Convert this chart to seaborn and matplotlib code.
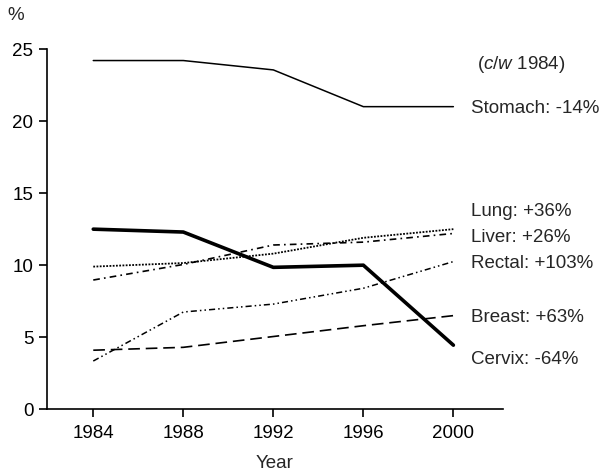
import matplotlib
matplotlib.use("Agg")
import matplotlib.pyplot as plt
import seaborn as sns
import pandas as pd

# values (% of cancers, by year)
years = [1984, 1988, 1992, 1996, 2000]
stomach = [24.2, 24.2, 23.55, 21.0, 21.0]
cervix = [12.5, 12.3, 9.85, 10.0, 4.45]
liver = [9.9, 10.15, 10.8, 11.9, 12.5]
lung = [8.97, 10.05, 11.4, 11.6, 12.2]
rectal = [3.35, 6.75, 7.3, 8.4, 10.25]
breast = [4.1, 4.3, 5.05, 5.8, 6.5]

labels = ["Stomach: -14%", "Lung: +36%", "Liver: +26%", "Rectal: +103%",
          "Breast: +63%", "Cervix: -64%"]
label_y = [20.9, 13.75, 11.95, 10.15, 6.35, 3.45]
y_ticks = [0, 5, 10, 15, 20, 25]

series = {
    "Stomach": (stomach, 1.1, "-"),
    "Cervix": (cervix, 2.6, "-"),
    "Liver": (liver, 1.3, (0, (1, 0.8))),
    "Lung": (lung, 1.2, (0, (4, 2.5, 1, 2.5))),
    "Rectal": (rectal, 1.1, (0, (4, 2, 1, 2, 1, 2))),
    "Breast": (breast, 1.2, (0, (7, 3.5))),
}

sns.set_theme(style="ticks")
plt.rcParams["font.family"] = ["Liberation Sans", "DejaVu Sans"]
plt.rcParams["mathtext.fontset"] = "custom"
plt.rcParams["mathtext.rm"] = "Liberation Sans"
plt.rcParams["mathtext.it"] = "Liberation Sans:italic"

fig = plt.figure(figsize=(6.03, 4.74), dpi=100)
ax = fig.add_axes([0.0774, 0.1365, 0.834 - 0.0774, 0.8966 - 0.1365])

for name, (vals, lw, ls) in series.items():
    df = pd.DataFrame({"year": years, "value": vals})
    sns.lineplot(data=df, x="year", y="value", ax=ax, color="black",
                 linewidth=lw, linestyle=ls, legend=False)

ax.set_xlim(1981.93, 2002.2)
ax.set_ylim(0, 25)
ax.set_xticks(years)
ax.set_yticks(y_ticks)
ax.tick_params(axis="both", labelsize=13.5, length=6, width=1.2,
               colors="black")
ax.tick_params(axis="x", pad=5)
for s in ["top", "right"]:
    ax.spines[s].set_visible(False)
for s in ["left", "bottom"]:
    ax.spines[s].set_linewidth(1.2)
    ax.spines[s].set_color("black")

ax.set_xlabel("Year", fontsize=13.5, labelpad=10)
ax.set_ylabel("")

for txt, yv in zip(labels, label_y):
    ax.text(2000.8, yv, txt, fontsize=13.5, va="center", ha="left",
            clip_on=False)
ax.text(2003.0, 23.9, r"($\mathit{c/w}$ 1984)", fontsize=13.5,
        va="center", ha="center", clip_on=False)
fig.text(16 / 603, 1 - 15 / 474, "%", fontsize=13.5, ha="center",
         va="center")

fig.savefig("out.png", dpi=100, facecolor="white")
